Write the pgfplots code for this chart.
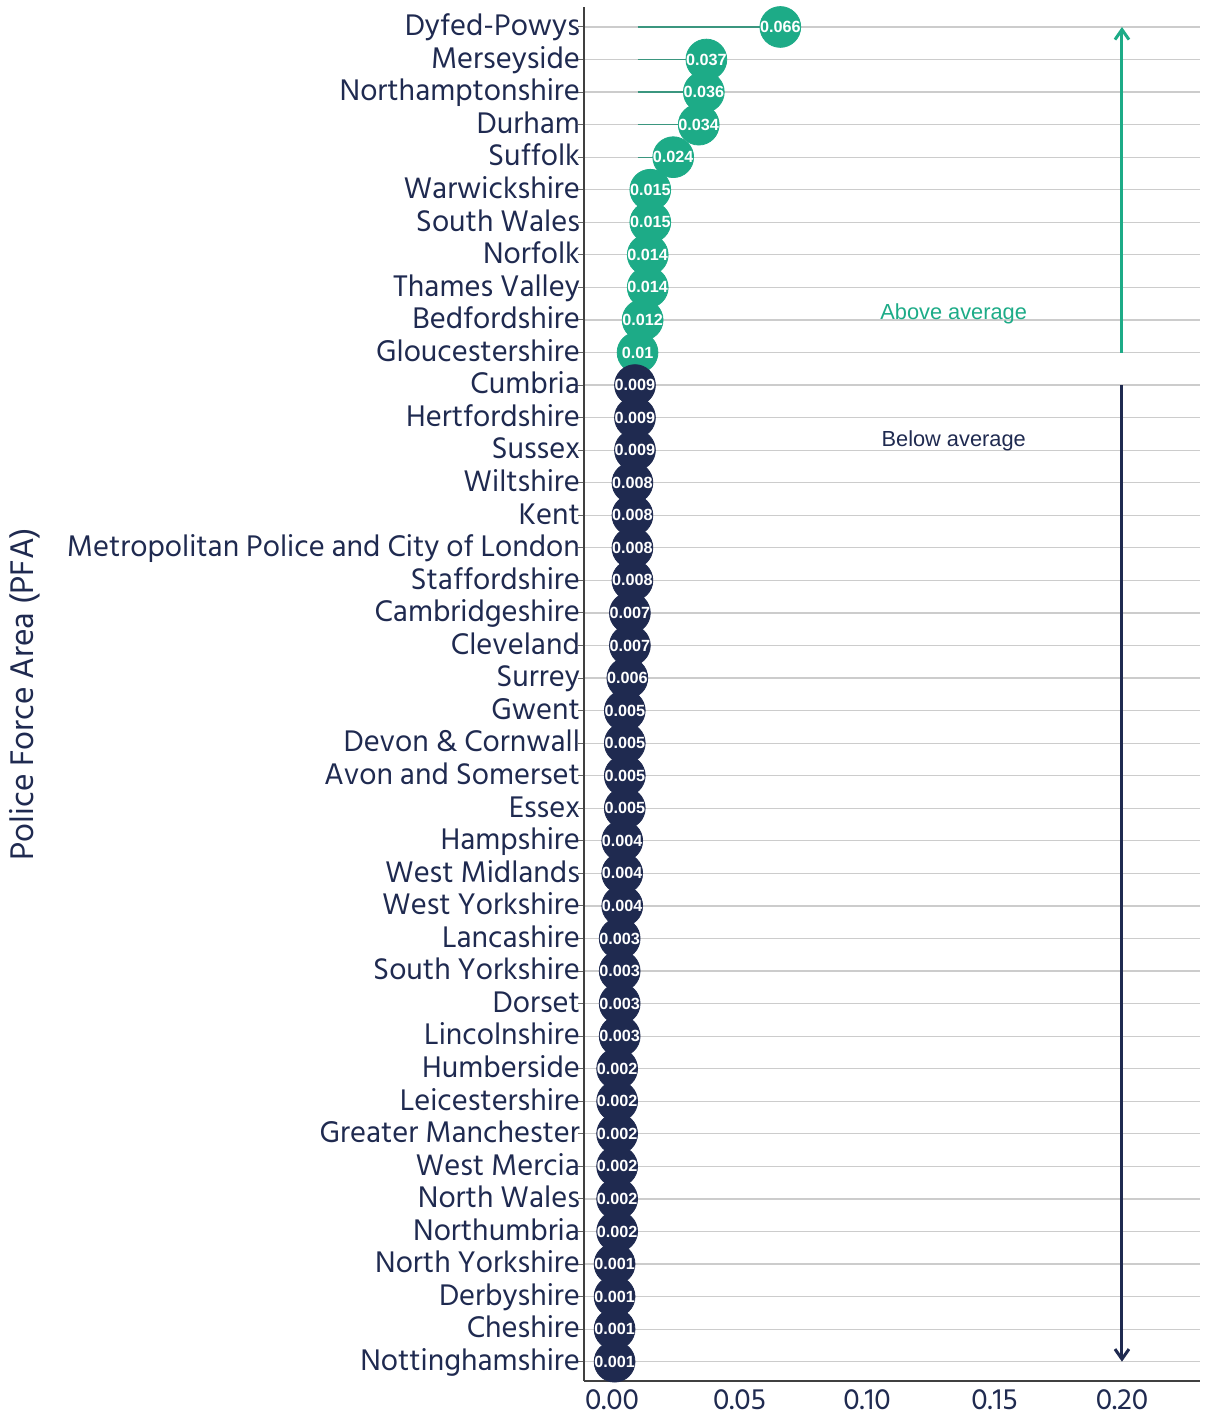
\documentclass[border=0pt]{standalone}
\usepackage{fontspec}
\usepackage{pgfplots}
\usepackage{pgfplotstable}
\pgfplotsset{compat=1.18}
\usetikzlibrary{arrows.meta}
\setmainfont{Hind Siliguri}
\newfontfamily\arial{Liberation Sans}
\definecolor{pfagreen}{RGB}{29,171,135}
\definecolor{pfanavy}{RGB}{31,42,80}
\definecolor{gridgray}{RGB}{204,204,204}

% y = row (0 at bottom), v = rate
\pgfplotstableread[col sep=comma]{
y,v
41,0.066
40,0.037
39,0.036
38,0.034
37,0.024
36,0.015
35,0.015
34,0.014
33,0.014
32,0.012
31,0.01
}\above
\pgfplotstableread[col sep=comma]{
y,v
30,0.009
29,0.009
28,0.009
27,0.008
26,0.008
25,0.008
24,0.008
23,0.007
22,0.007
21,0.006
20,0.005
19,0.005
18,0.005
17,0.005
16,0.004
15,0.004
14,0.004
13,0.003
12,0.003
11,0.003
10,0.003
9,0.002
8,0.002
7,0.002
6,0.002
5,0.002
4,0.002
3,0.001
2,0.001
1,0.001
0,0.001
}\below

\begin{document}
\begin{tikzpicture}
\begin{axis}[
  scale only axis, width=308pt, height=687pt,
  xmin=-0.011, xmax=0.2306, ymin=-0.593, ymax=41.614,
  axis lines*=left,
  axis line style={draw=black!75, line width=0.7pt},
  xtick={0,0.05,0.1,0.15,0.2},
  xticklabel style={/pgf/number format/fixed, /pgf/number format/fixed zerofill, /pgf/number format/precision=2,
    font=\fontsize{15}{16}\selectfont, inner sep=0pt, yshift=-1pt},
  /pgf/number format/assume math mode=true,
  x tick style={draw=none},
  ytick={0,...,41},
  yticklabels={Nottinghamshire,Cheshire,Derbyshire,North Yorkshire,Northumbria,North Wales,West Mercia,Greater Manchester,Leicestershire,Humberside,Lincolnshire,Dorset,South Yorkshire,Lancashire,West Yorkshire,West Midlands,Hampshire,Essex,Avon and Somerset,Devon \& Cornwall,Gwent,Surrey,Cleveland,Cambridgeshire,Staffordshire,Metropolitan Police and City of London,Kent,Wiltshire,Sussex,Hertfordshire,Cumbria,Gloucestershire,Bedfordshire,Thames Valley,Norfolk,South Wales,Warwickshire,Suffolk,Durham,Northamptonshire,Merseyside,Dyfed-Powys},
  y tick style={draw=black!60, line width=0.5pt},
  tick align=outside, major tick length=3pt,
  ymajorgrids, grid style={gridgray, line width=0.6pt},
  ticklabel style={text=pfanavy},
  yticklabel style={font=\fontsize{15.3}{16}\selectfont, xshift=4.5pt, text height=1.1em, text depth=0.22em},
  clip=false,
  point meta=explicit symbolic,
  every node near coord/.style={anchor=center, text=white, font=\arial\bfseries\fontsize{8.1}{9}\selectfont},
]
% stems from the average (0.01)
\addplot[draw=none, mark=none, forget plot,
  error bars/.cd, x dir=plus, x explicit, error mark=none,
  error bar style={pfagreen!80!black, line width=0.6pt, opacity=0.8}]
  table[x expr=0.01, y=y, x error expr=\thisrow{v}-0.01] \above;
\addplot[only marks, mark=*, mark size=10.2pt, color=pfagreen, mark options={draw=none, fill=pfagreen},
  nodes near coords]
  table[x=v, y=y, meta=v] \above;
\addplot[only marks, mark=*, mark size=10.2pt, color=pfanavy, mark options={draw=none, fill=pfanavy},
  nodes near coords]
  table[x=v, y=y, meta=v] \below;
\draw[pfagreen, line width=1.5pt, -{Straight Barb[length=5pt, width=7pt]}] (axis cs:0.2,31) -- (axis cs:0.2,41);
\draw[pfanavy, line width=1.5pt, -{Straight Barb[length=5pt, width=7pt]}] (axis cs:0.2,30) -- (axis cs:0.2,0);
\node[font=\arial\fontsize{10.9}{12}\selectfont, text=pfagreen] at (axis cs:0.134,32.19) {Above average};
\node[font=\arial\fontsize{10.9}{12}\selectfont, text=pfanavy] at (axis cs:0.134,28.29) {Below average};
\end{axis}
\node[rotate=90, font=\fontsize{16.8}{18}\selectfont, text=pfanavy] at ([xshift=-279.5pt]current axis.west) {Police Force Area (PFA)};
\pgfresetboundingbox
\useasboundingbox ([shift={(-292pt,-16.5pt)}]current axis.south west) rectangle ([shift={(3pt,3.5pt)}]current axis.north east);
\end{tikzpicture}
\end{document}
